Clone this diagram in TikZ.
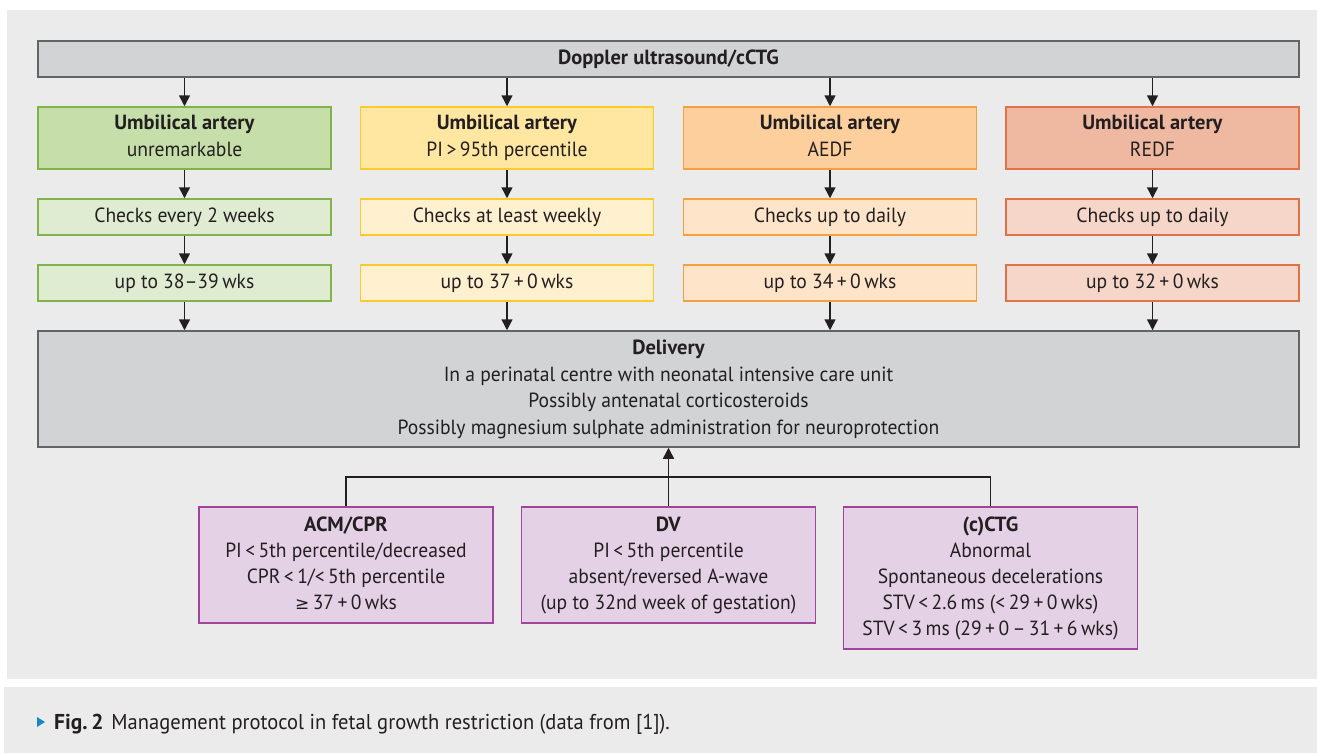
\documentclass[tikz,border=0pt]{standalone}
\usepackage{fontspec}
\setmainfont{PT Sans}[UprightFeatures={FakeStretch=0.955}]
\newfontfamily\symfont{DejaVu Sans}
\usetikzlibrary{arrows.meta}
\newcommand\bs{\vrule width 0pt height 18.9pt depth 8.1pt\relax}
\definecolor{panelbg}{HTML}{EAEBEA}
\definecolor{greyfill}{HTML}{D2D3D5}
\definecolor{greyline}{HTML}{636466}
\definecolor{gA}{HTML}{C6DEA9}
\definecolor{gB}{HTML}{E0ECD2}
\definecolor{gL}{HTML}{80B34A}
\definecolor{yA}{HTML}{FFE6A1}
\definecolor{yB}{HTML}{FFF0CF}
\definecolor{yL}{HTML}{FDCA2E}
\definecolor{oA}{HTML}{FDCF9C}
\definecolor{oB}{HTML}{FEE4C9}
\definecolor{oL}{HTML}{F5A03D}
\definecolor{rA}{HTML}{EFB8A0}
\definecolor{rB}{HTML}{F5D6C8}
\definecolor{rL}{HTML}{E27148}
\definecolor{pA}{HTML}{E5D1E6}
\definecolor{pL}{HTML}{A0449C}
\definecolor{txt}{HTML}{231F20}
\definecolor{capblue}{HTML}{1B86C6}
\tikzset{
  box/.style={draw, line width=1.5pt, align=center, text=txt, inner sep=0pt,
    font=\fontsize{20.5}{27}\selectfont},
  greybox/.style={box, fill=greyfill, draw=greyline, minimum width=1261pt},
  colbox/.style={box, minimum width=293pt},
  purbox/.style={box, fill=pA, draw=pL, minimum width=294pt, font=\fontsize{20.5}{26.2}\selectfont},
  arr/.style={draw=txt, line width=1.5pt, -{Triangle[width=11pt,length=11pt]}},
  conn/.style={draw=txt, line width=1.5pt},
}
\begin{document}
\begin{tikzpicture}[x=1pt,y=-1pt]
\useasboundingbox (0,0) rectangle (1317,753);
\fill[white] (0,0) rectangle (1317,753);
\fill[panelbg] (7,10) rectangle (1317,679);
\fill[panelbg] (4,687) rectangle (1317,753);

\node[greybox, minimum height=36pt] (top) at (668.5,59) {\bs\textbf{Doppler ultrasound/cCTG}\bs};

\node[colbox, fill=gA, draw=gL, minimum height=62pt] (g1) at (184.5,138) {\bs\textbf{Umbilical artery}\\unremarkable\bs};
\node[colbox, fill=yA, draw=yL, minimum height=62pt] (y1) at (507,138) {\bs\textbf{Umbilical artery}\\PI\,>\,95th percentile\bs};
\node[colbox, fill=oA, draw=oL, minimum height=62pt] (o1) at (830,138) {\bs\textbf{Umbilical artery}\\AEDF\bs};
\node[colbox, fill=rA, draw=rL, minimum height=62pt] (r1) at (1152.5,138) {\bs\textbf{Umbilical artery}\\REDF\bs};

\node[colbox, fill=gB, draw=gL, minimum height=36pt] (g2) at (184.5,217) {\bs Checks every 2 weeks\bs};
\node[colbox, fill=yB, draw=yL, minimum height=36pt] (y2) at (507,217) {\bs Checks at least weekly\bs};
\node[colbox, fill=oB, draw=oL, minimum height=36pt] (o2) at (830,217) {\bs Checks up to daily\bs};
\node[colbox, fill=rB, draw=rL, minimum height=36pt] (r2) at (1152.5,217) {\bs Checks up to daily\bs};

\node[colbox, fill=gB, draw=gL, minimum height=36pt] (g3) at (184.5,283) {\bs up to 38–39\,wks\bs};
\node[colbox, fill=yB, draw=yL, minimum height=36pt] (y3) at (507,283) {\bs up to 37\,+\,0\,wks\bs};
\node[colbox, fill=oB, draw=oL, minimum height=36pt] (o3) at (830,283) {\bs up to 34\,+\,0\,wks\bs};
\node[colbox, fill=rB, draw=rL, minimum height=36pt] (r3) at (1152.5,283) {\bs up to 32\,+\,0\,wks\bs};

\node[greybox, minimum height=116pt, font=\fontsize{20.5}{26.5}\selectfont] (del) at (668.5,389)
  {\bs\textbf{Delivery}\\In a perinatal centre with neonatal intensive care unit\\Possibly antenatal corticosteroids\\Possibly magnesium sulphate administration for neuroprotection\bs};

\node[purbox, minimum height=116pt] (acm) at (346,565)
  {\bs\textbf{ACM/CPR}\\PI\,<\,5th percentile/decreased\\CPR\,<\,1/<\,5th percentile\\{\symfont\fontsize{17}{26}\selectfont ≥}\,37\,+\,0\,wks\bs};
\node[purbox, minimum height=116pt] (dv) at (668.5,565)
  {\bs\textbf{DV}\\PI\,<\,5th percentile\\absent/reversed A-wave\\(up to 32nd week of gestation)\bs};
\node[purbox, minimum height=142pt] (ctg) at (990.5,578)
  {\bs\textbf{(c)CTG}\\Abnormal\\Spontaneous decelerations\\STV\,<\,2.6\,ms (<\,29\,+\,0\,wks)\\STV\,<\,3\,ms (29\,+\,0\,–\,31\,+\,6\,wks)\bs};

% arrows from top box
\foreach \n in {g1,y1,o1,r1} {
  \draw[arr] (top.south -| \n.north) -- (\n.north);
}
\foreach \a/\b in {g1/g2,y1/y2,o1/o2,r1/r2,g2/g3,y2/y3,o2/o3,r2/r3} {
  \draw[arr] (\a.south) -- (\b.north);
}
\foreach \n in {g3,y3,o3,r3} {
  \draw[arr] (\n.south) -- (\n.south |- del.north);
}
% bottom connectors
\coordinate (hl) at (346,477);
\draw[conn] (acm.north) -- (hl) -| (ctg.north);
\draw[arr] (dv.north) -- (del.south);

% caption
\fill[capblue] (37,717) -- (45,722) -- (37,727) -- cycle;
\node[anchor=base west, inner sep=0pt, text=txt, font=\fontsize{21.5}{24}\selectfont] (cap) at (54,729)
  {\textbf{Fig.\,2}\hspace{8pt}Management protocol in fetal growth restriction (data from [1]).};
\end{tikzpicture}
\end{document}
